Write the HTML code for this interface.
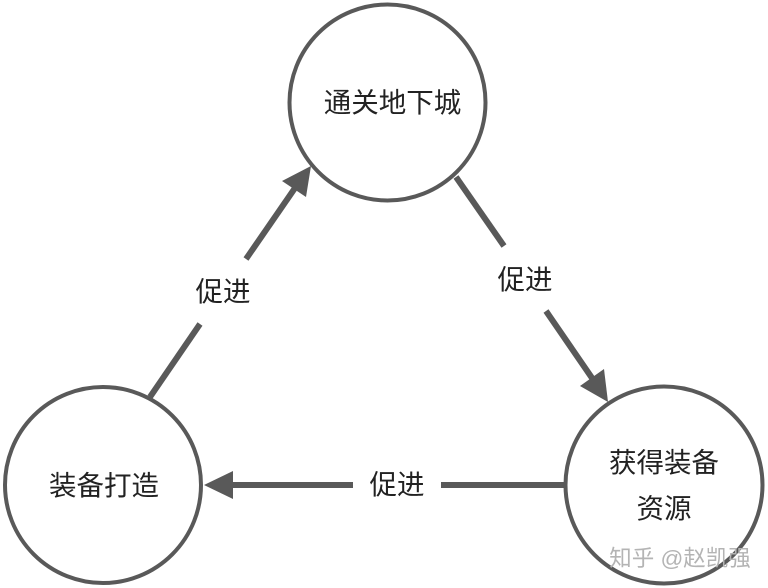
<!DOCTYPE html>
<html><head><meta charset="utf-8"><style>
html,body{margin:0;padding:0;background:#fff}
svg{display:block}
text{font-family:"Liberation Sans","Noto Sans CJK SC",sans-serif;fill:#222;text-anchor:middle}
</style></head><body>
<svg width="768" height="588" viewBox="0 0 768 588" xmlns="http://www.w3.org/2000/svg">
<rect width="768" height="588" fill="#fff"/>
<g fill="none" stroke="#595959" stroke-width="4">
<circle cx="387.5" cy="102.5" r="98"/>
<circle cx="103" cy="485" r="98"/>
<circle cx="664" cy="485" r="98.5"/>
</g>
<g fill="none" stroke="#595959" stroke-width="6">
<path d="M150 397L200 324"/>
<path d="M246 259L295 188"/>
<path d="M456 177L504 246"/>
<path d="M546 311L592 378"/>
<path d="M230 485H353"/>
<path d="M441 485H565"/>
</g>
<g fill="#595959">
<polygon points="311,166 306,197 282,181"/>
<polygon points="608,402 580,386 604,369"/>
<polygon points="204,485 233,471 233,499"/>
</g>
<g font-size="27.5">
<text x="392.5" y="112">通关地下城</text>
<text x="104" y="495">装备打造</text>
<text x="664" y="472">获得装备</text>
<text x="664" y="518">资源</text>
<text x="223" y="301">促进</text>
<text x="525" y="289">促进</text>
<text x="397" y="494">促进</text>
</g>
<text x="680" y="566" font-size="22.5" style="fill:#b4b4b4">知乎 @赵凯强</text>
</svg>
</body></html>
